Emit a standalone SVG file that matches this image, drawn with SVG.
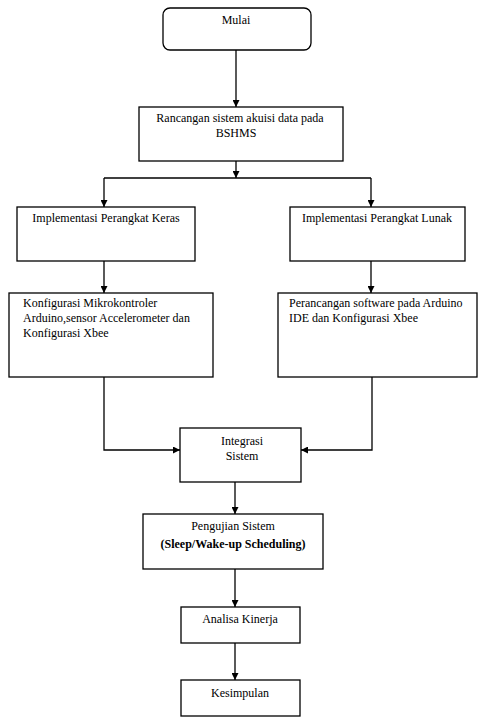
<svg xmlns="http://www.w3.org/2000/svg" width="478" height="717" viewBox="0 0 478 717">
<style>
.box{fill:#fff;stroke:#000;stroke-width:1.3}
.t{font-family:"Liberation Serif","Times New Roman",serif;font-size:12px;fill:#000}
.c{text-anchor:middle}
.b{font-weight:bold}
.ln{fill:none;stroke:#000;stroke-width:1.3}
</style>
<defs>
<marker id="ah" viewBox="0 0 10 10" refX="10" refY="5" markerWidth="7" markerHeight="7" markerUnits="userSpaceOnUse" orient="auto">
<path d="M0,0 L10,5 L0,10 Z" fill="#000"/>
</marker>
</defs>
<rect width="478" height="717" fill="#fff"/>
<g id="connectors">
<path class="ln" d="M236,50 V107" marker-end="url(#ah)"/>
<path class="ln" d="M236,161 V178" marker-end="url(#ah)"/>
<path class="ln" d="M104,178 H371"/>
<path class="ln" d="M104,178 V207" marker-end="url(#ah)"/>
<path class="ln" d="M371,178 V207" marker-end="url(#ah)"/>
<path class="ln" d="M104,261 V293" marker-end="url(#ah)"/>
<path class="ln" d="M371,261 V293" marker-end="url(#ah)"/>
<path class="ln" d="M104,377 V450 H180" marker-end="url(#ah)"/>
<path class="ln" d="M372,377 V450 H301" marker-end="url(#ah)"/>
<path class="ln" d="M235,482 V514" marker-end="url(#ah)"/>
<path class="ln" d="M235,569 V607" marker-end="url(#ah)"/>
<path class="ln" d="M235,643 V680" marker-end="url(#ah)"/>
</g>
<g id="mulai">
<rect class="box" x="163" y="8" width="148" height="42" rx="7"/>
<text class="t c" x="236" y="24">Mulai</text>
</g>
<g id="rancangan">
<rect class="box" x="139" y="107" width="204" height="54"/>
<text class="t c" x="240" y="122">Rancangan sistem akuisi data pada</text>
<text class="t c" x="236" y="137">BSHMS</text>
</g>
<g id="keras">
<rect class="box" x="17" y="207" width="178" height="54"/>
<text class="t c" x="106" y="222">Implementasi Perangkat Keras</text>
</g>
<g id="lunak">
<rect class="box" x="290" y="207" width="175" height="54"/>
<text class="t c" x="377" y="222">Implementasi Perangkat Lunak</text>
</g>
<g id="konfigurasi">
<rect class="box" x="9" y="293" width="204" height="84"/>
<text class="t" x="23" y="307">Konfigurasi Mikrokontroler</text>
<text class="t" x="23" y="322">Arduino,sensor Accelerometer dan</text>
<text class="t" x="23" y="337">Konfigurasi Xbee</text>
</g>
<g id="perancangan">
<rect class="box" x="278" y="293" width="199" height="84"/>
<text class="t" x="289" y="307">Perancangan software pada Arduino</text>
<text class="t" x="289" y="322">IDE dan Konfigurasi Xbee</text>
</g>
<g id="integrasi">
<rect class="box" x="180" y="428" width="121" height="54"/>
<text class="t c" x="242" y="445">Integrasi</text>
<text class="t c" x="242" y="460">Sistem</text>
</g>
<g id="pengujian">
<rect class="box" x="143" y="514" width="180" height="55"/>
<text class="t c" x="233" y="530">Pengujian Sistem</text>
<text class="t c b" x="233" y="548">(Sleep/Wake-up Scheduling)</text>
</g>
<g id="analisa">
<rect class="box" x="181" y="607" width="119" height="36"/>
<text class="t c" x="240" y="623">Analisa Kinerja</text>
</g>
<g id="kesimpulan">
<rect class="box" x="181" y="680" width="119" height="36"/>
<text class="t c" x="240" y="697">Kesimpulan</text>
</g>
</svg>
